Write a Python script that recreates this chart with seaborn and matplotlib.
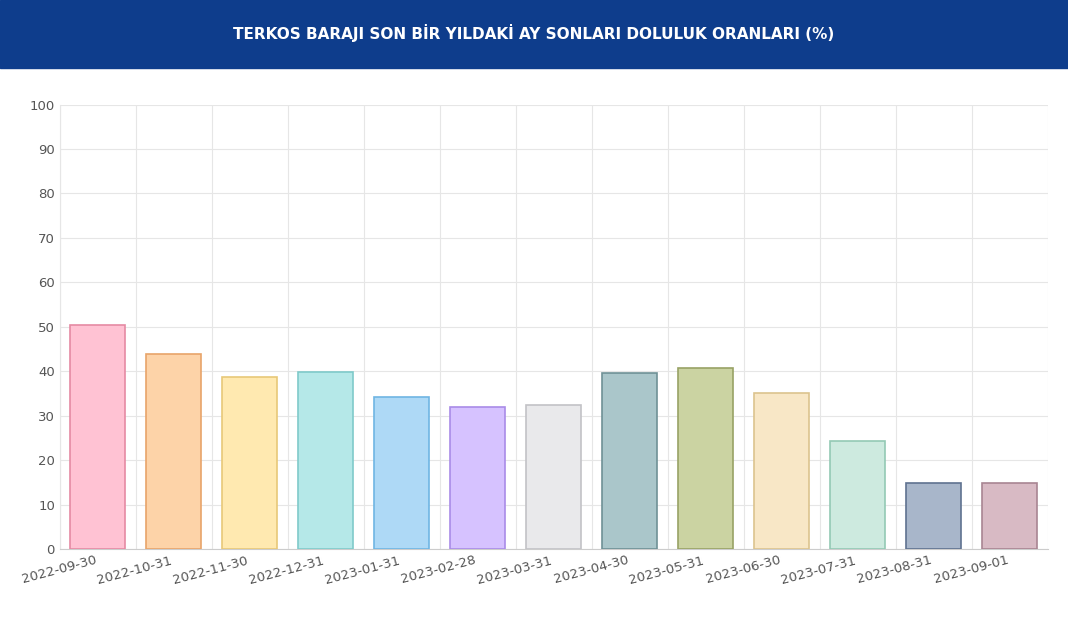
import matplotlib
matplotlib.use("Agg")
import matplotlib.pyplot as plt
import seaborn as sns
import pandas as pd

# month-end fill rates of Terkos dam (%)
dates = ["2022-09-30", "2022-10-31", "2022-11-30", "2022-12-31", "2023-01-31",
         "2023-02-28", "2023-03-31", "2023-04-30", "2023-05-31", "2023-06-30",
         "2023-07-31", "2023-08-31", "2023-09-01"]
rates = [50.5, 43.9, 38.7, 39.9, 34.2, 32.0, 32.4, 39.6, 40.8, 35.1, 24.3, 14.9, 14.9]
fills = ["#ffc2d3", "#fdd3a8", "#ffe9b0", "#b5e8e8", "#aed9f6", "#d6c2ff", "#e9e9eb",
         "#aac6ca", "#cbd3a2", "#f8e7c6", "#cdeadf", "#a8b6ca", "#d8bac4"]
edges = ["#e58aa3", "#e8a46a", "#e8c878", "#7fcaca", "#6fb5e3", "#a98be8", "#c2c2c6",
         "#6f9196", "#98a265", "#dcc38e", "#93c9b4", "#5f7290", "#a88592"]

df = pd.DataFrame({"date": dates, "rate": rates})

sns.set_style("white")
fig = plt.figure(figsize=(10.68, 6.26), dpi=100)
fig.patch.set_facecolor("white")

# header band
fig.patches.append(plt.Rectangle((0, 0.891), 1, 0.109, transform=fig.transFigure,
                                 color="#0e3d8c", zorder=0))
fig.text(0.5, 0.948, "TERKOS BARAJI SON BİR YILDAKİ AY SONLARI DOLULUK ORANLARI (%)",
         ha="center", va="center", color="white", fontsize=11, fontweight="bold")

ax = fig.add_axes([0.056, 0.123, 0.925, 0.71])
sns.barplot(data=df, x="date", y="rate", hue="date", palette=fills, legend=False,
            saturation=1, width=0.72, ax=ax, zorder=3)
for bar, ec in zip(ax.patches, edges):
    bar.set_edgecolor(ec)
    bar.set_linewidth(1.2)

ax.set_ylim(0, 100)
ax.set_yticks(range(0, 101, 10))
ax.set_xlim(-0.5, len(dates) - 0.5)
ax.set_xticks([i - 0.5 for i in range(len(dates) + 1)], minor=True)
ax.grid(True, which="minor", axis="x", color="#e6e6e6", lw=0.8)
ax.grid(True, which="major", axis="y", color="#e6e6e6", lw=0.8)
ax.set_axisbelow(True)
ax.set_xlabel("")
ax.set_ylabel("")
ax.tick_params(axis="x", which="major", length=0, labelsize=9.5, labelcolor="#555555")
ax.tick_params(axis="y", labelsize=9.5, labelcolor="#555555", length=0)
plt.setp(ax.get_xticklabels(), rotation=15, ha="right")
for s in ax.spines.values():
    s.set_visible(False)
ax.spines["bottom"].set_visible(True)
ax.spines["bottom"].set_color("#cccccc")
ax.spines["left"].set_visible(True)
ax.spines["left"].set_color("#e6e6e6")

fig.savefig("out.png", dpi=100)
